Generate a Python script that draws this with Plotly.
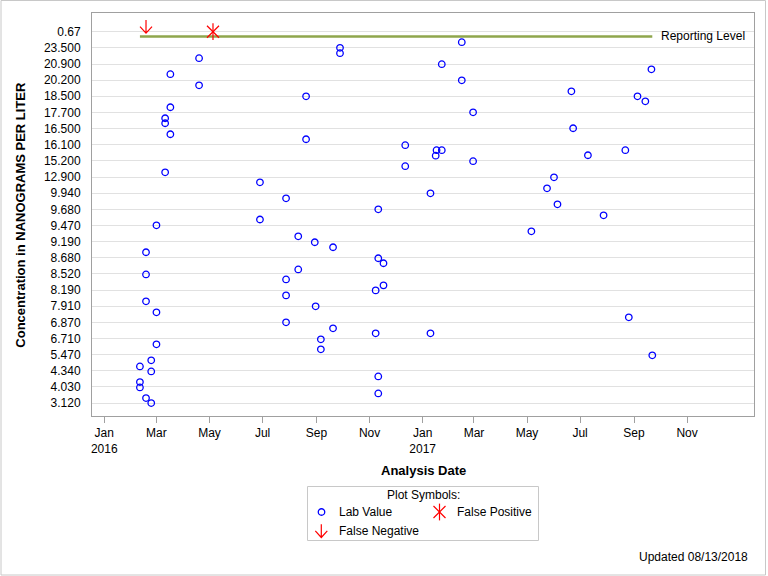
import plotly.graph_objects as go

W, H = 768, 576

# ---------------- data ----------------
ytick_labels = ["3.120", "4.030", "4.340", "5.470", "6.710", "6.870", "7.910", "8.190",
                "8.520", "8.680", "9.190", "9.470", "9.680", "9.940", "12.900", "15.200",
                "16.100", "16.500", "17.700", "18.500", "20.200", "20.900", "23.500", "0.67"]
ytick_pos = list(range(len(ytick_labels)))

xtick_dates = ["2016-01-01", "2016-03-01", "2016-05-01", "2016-07-01", "2016-09-01", "2016-11-01",
               "2017-01-01", "2017-03-01", "2017-05-01", "2017-07-01", "2017-09-01", "2017-11-01"]
xtick_text = ["Jan<br>2016", "Mar", "May", "Jul", "Sep", "Nov",
              "Jan<br>2017", "Mar", "May", "Jul", "Sep", "Nov"]

lab_dates = [
    "2016-04-19", "2016-03-17", "2016-04-19", "2016-03-17", "2016-03-11", "2016-03-11",
    "2016-03-17", "2016-03-11", "2016-03-01", "2016-02-18", "2016-02-18", "2016-02-18",
    "2016-03-01", "2016-03-01", "2016-02-24", "2016-02-11", "2016-02-24", "2016-02-11",
    "2016-02-11", "2016-02-18", "2016-02-24", "2016-09-28", "2016-09-28", "2017-02-15",
    "2017-01-23", "2017-02-15", "2016-08-20", "2017-02-28", "2016-08-20", "2016-12-12",
    "2017-01-17", "2017-01-23", "2017-01-16", "2016-12-12", "2017-02-28", "2016-06-28",
    "2016-07-28", "2017-01-10", "2016-11-11", "2016-06-28", "2016-08-11", "2016-08-30",
    "2016-09-20", "2016-11-11", "2016-11-17", "2016-08-11", "2016-07-28", "2016-11-17",
    "2016-11-08", "2016-07-28", "2016-08-31", "2016-07-28", "2016-09-20", "2016-11-08",
    "2017-01-10", "2016-09-06", "2016-09-06", "2016-11-11", "2016-11-11", "2017-09-21",
    "2017-06-21", "2017-09-05", "2017-09-14", "2017-06-23", "2017-07-10", "2017-08-22",
    "2017-06-01", "2017-05-24", "2017-06-05", "2017-07-28", "2017-05-06", "2017-08-26",
    "2017-09-22",
]
lab_values = [
    21.36, 20.37, 19.68, 18.32, 17.64, 17.33,
    16.65, 14.29, 11.01, 9.34, 7.97, 6.30,
    5.62, 3.64, 2.65, 2.27, 1.96, 1.30,
    0.97, 0.31, 0.00, 22.00, 21.67, 22.35,
    20.99, 19.99, 19.00, 18.01, 16.34, 15.97,
    15.66, 15.66, 15.32, 14.67, 14.98, 13.67,
    12.68, 12.99, 12.00, 11.37, 10.33, 9.96,
    9.65, 8.97, 8.66, 8.28, 7.66, 7.29,
    6.98, 6.67, 5.99, 5.00, 4.63, 4.32,
    4.32, 3.95, 3.33, 1.65, 0.60, 20.67,
    19.31, 19.00, 18.69, 17.02, 15.35, 15.66,
    13.98, 13.30, 12.31, 11.63, 10.64, 5.31,
    2.96,
]

fn_dates = ["2016-02-18"]
fn_values = [23.0]
fp_dates = ["2016-05-05"]
fp_values = [23.0]

rl_dates = ["2016-02-11", "2017-09-22"]
rl_values = [22.71, 22.71]
rl_label = "Reporting Level"

# ---------------- style ----------------
FONT = "Liberation Sans, Arial, sans-serif"
BLUE = "#0000FF"
RED = "#FF0000"
OLIVE = "#8FA64C"
FRAME = "#A0A0A0"
GRID = "#E1E1E1"
TXT = "#000000"

# down-arrow glyph, pixel offsets relative to its anchor (y positive = up)
ARROW_PATH = "M0,11.8 L0,-1.5 M-6,5.1 L0,-1.5 L6,5.1"


def px(x):
    return x / W


def py(y):
    return 1 - y / H


# plot area in pixels
L, R, T, B = 92, 754, 13.3, 416

fig = go.Figure()

# reporting level line
fig.add_trace(go.Scatter(x=rl_dates, y=rl_values, mode="lines",
                         line=dict(color=OLIVE, width=2.5), showlegend=False, hoverinfo="skip"))

# lab values
fig.add_trace(go.Scatter(x=lab_dates, y=lab_values, mode="markers",
                         marker=dict(symbol="circle-open", size=6.5, color=BLUE,
                                     line=dict(color=BLUE, width=1.3)),
                         showlegend=False, cliponaxis=False))

# false positive (asterisk made of x + vertical line)
for sym in ["x-thin-open", "line-ns-open"]:
    fig.add_trace(go.Scatter(x=fp_dates, y=fp_values, mode="markers",
                             marker=dict(symbol=sym, size=12, color=RED,
                                         line=dict(color=RED, width=1.2)),
                             showlegend=False, cliponaxis=False))

# false negative arrows
for d, v in zip(fn_dates, fn_values):
    fig.add_shape(type="path", xref="x", yref="y", xsizemode="pixel", ysizemode="pixel",
                  xanchor=d, yanchor=v, path=ARROW_PATH,
                  line=dict(color=RED, width=1.2))

# reporting level label
fig.add_annotation(x=rl_dates[-1], y=rl_values[-1], xref="x", yref="y", xshift=7,
                   text=rl_label, showarrow=False, xanchor="left", yanchor="middle",
                   font=dict(family=FONT, size=12, color=TXT))

# ---------------- custom legend ----------------
leg_x = [321.5, 439.5]
leg_y = [512, 512]
fig.add_trace(go.Scatter(x=[leg_x[0]], y=[leg_y[0]], xaxis="x2", yaxis="y2", mode="markers",
                         marker=dict(symbol="circle-open", size=6.5, color=BLUE,
                                     line=dict(color=BLUE, width=1.3)),
                         showlegend=False, cliponaxis=False, hoverinfo="skip"))
for sym in ["x-thin-open", "line-ns-open"]:
    fig.add_trace(go.Scatter(x=[leg_x[1]], y=[leg_y[1]], xaxis="x2", yaxis="y2", mode="markers",
                             marker=dict(symbol=sym, size=12, color=RED,
                                         line=dict(color=RED, width=1.2)),
                             showlegend=False, cliponaxis=False, hoverinfo="skip"))
fig.add_shape(type="path", xref="paper", yref="paper", xsizemode="pixel", ysizemode="pixel",
              xanchor=px(321.3), yanchor=py(536), path=ARROW_PATH,
              line=dict(color=RED, width=1.2))

leg_font = dict(family=FONT, size=12, color=TXT)
fig.add_annotation(x=px(423), y=py(495), xref="paper", yref="paper", text="Plot Symbols:",
                   showarrow=False, xanchor="center", yanchor="middle", font=leg_font)
fig.add_annotation(x=px(337), y=py(512), xref="paper", yref="paper", text="Lab Value",
                   showarrow=False, xanchor="left", yanchor="middle", font=leg_font)
fig.add_annotation(x=px(455), y=py(512), xref="paper", yref="paper", text="False Positive",
                   showarrow=False, xanchor="left", yanchor="middle", font=leg_font)
fig.add_annotation(x=px(337), y=py(531), xref="paper", yref="paper", text="False Negative",
                   showarrow=False, xanchor="left", yanchor="middle", font=leg_font)
fig.add_shape(type="rect", xref="paper", yref="paper",
              x0=px(307.5), x1=px(538.5), y0=py(540.5), y1=py(486.5),
              line=dict(color="#C8C8C8", width=1), fillcolor="rgba(0,0,0,0)")

# footnote
fig.add_annotation(x=px(750), y=py(557), xref="paper", yref="paper", text="Updated 08/13/2018",
                   showarrow=False, xanchor="right", yanchor="middle", font=leg_font)

# axis titles
fig.add_annotation(x=px(21), y=py((T + B) / 2), xref="paper", yref="paper",
                   text="<b>Concentration in NANOGRAMS PER LITER</b>", textangle=-90,
                   showarrow=False, xanchor="center", yanchor="middle",
                   font=dict(family=FONT, size=13, color=TXT))
fig.add_annotation(x=px((L + R) / 2), y=py(470), xref="paper", yref="paper",
                   text="<b>Analysis Date</b>", showarrow=False, xanchor="center",
                   yanchor="middle", font=dict(family=FONT, size=13, color=TXT))

# outer frame
fig.add_shape(type="rect", xref="paper", yref="paper",
              x0=px(1), x1=px(765.5), y0=py(575), y1=py(0.5),
              line=dict(color="#C8C8C8", width=1), fillcolor="rgba(0,0,0,0)")

fig.update_layout(
    width=W, height=H,
    margin=dict(l=0, r=0, t=0, b=0),
    paper_bgcolor="white", plot_bgcolor="rgba(0,0,0,0)",
    showlegend=False,
    font=dict(family=FONT, size=12, color=TXT),
    xaxis=dict(
        type="date", domain=[px(L), px(R)],
        range=["2015-12-17 22:00", "2018-01-16 22:00"],
        tickvals=xtick_dates, ticktext=xtick_text,
        ticks="outside", ticklen=6, tickcolor=FRAME, tickwidth=1,
        showline=True, linecolor=FRAME, linewidth=1, mirror=True,
        showgrid=False, zeroline=False,
        tickfont=dict(family=FONT, size=12, color=TXT),
        anchor="y",
    ),
    yaxis=dict(
        domain=[py(B), py(T)],
        range=[-0.8, 24.14],
        tickvals=ytick_pos, ticktext=ytick_labels,
        ticks="outside", ticklen=8, tickcolor="rgba(0,0,0,0)",
        showline=True, linecolor=FRAME, linewidth=1, mirror=True,
        showgrid=True, gridcolor=GRID, gridwidth=1, zeroline=False,
        tickfont=dict(family=FONT, size=12, color=TXT),
        anchor="x",
    ),
    xaxis2=dict(domain=[0, 1], range=[0, W], visible=False, anchor="y2", fixedrange=True),
    yaxis2=dict(domain=[0, 1], range=[H, 0], visible=False, anchor="x2", fixedrange=True),
)

fig.write_html("out.html")
